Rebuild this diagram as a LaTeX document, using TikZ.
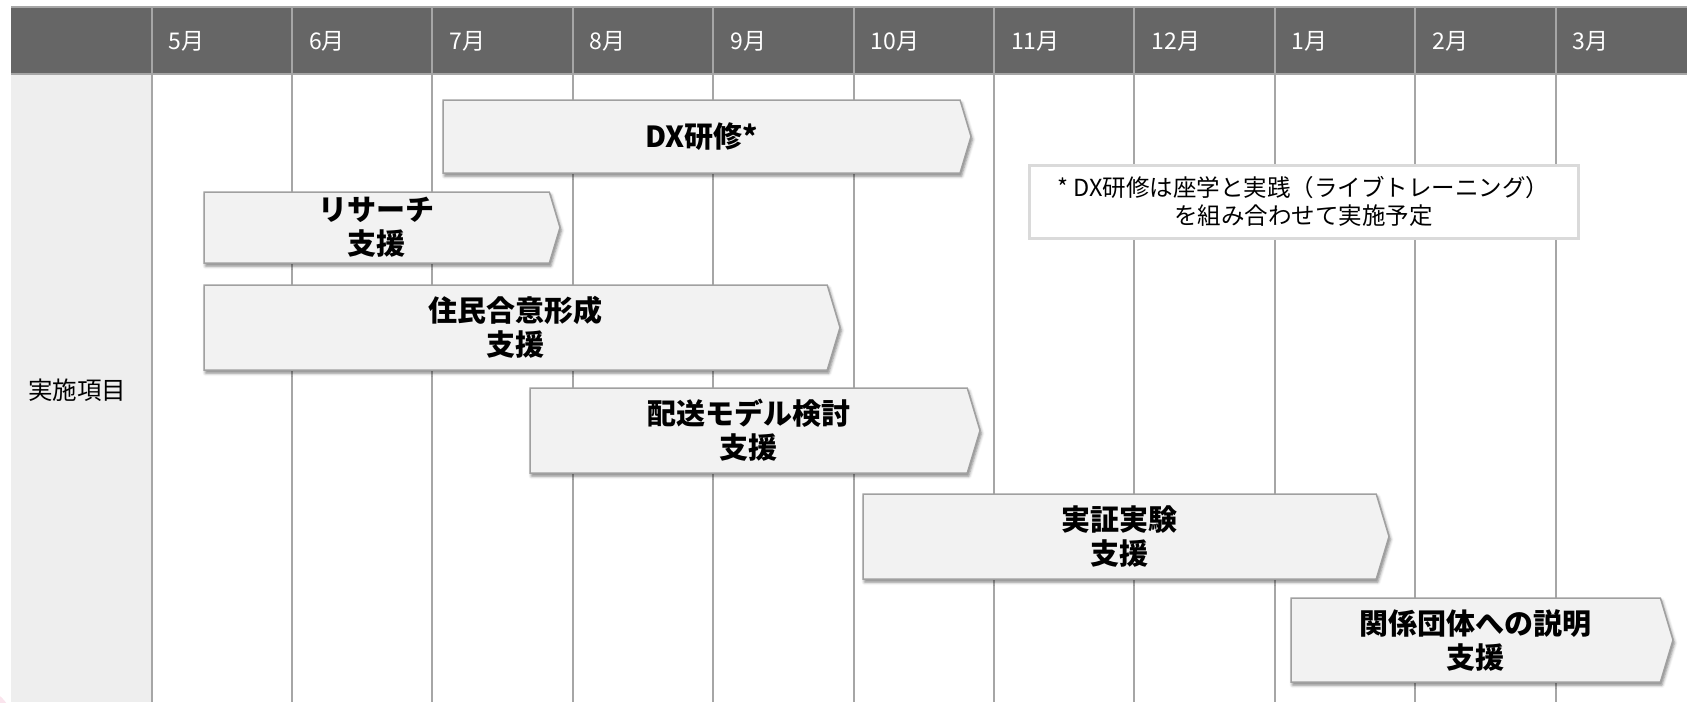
\documentclass[tikz,border=0pt]{standalone}
\usepackage{fontspec}
\setmainfont{Noto Sans CJK JP}
\usetikzlibrary{shadows,shadows.blur}
\definecolor{hdr}{HTML}{666666}
\definecolor{gridc}{HTML}{A6A6A6}
\definecolor{leftcol}{HTML}{EEEEEE}
\definecolor{barfill}{HTML}{F2F2F2}
\definecolor{barline}{HTML}{A0A0A0}
\definecolor{notebd}{HTML}{DADADA}
\definecolor{blob}{HTML}{F9DDE8}
\newcommand\gbar[6]{%
  \path[barshape] (#2,#4) -- ({#3-0.15*(#5-#4)},#4) -- (#3,{(#4+#5)/2}) -- ({#3-0.15*(#5-#4)},#5) -- (#2,#5) -- cycle;
  \node[bartext] (#1) at ({(#2+#3-0.15*(#5-#4))/2},{(#4+#5)/2}) {#6};}
\begin{document}
\begin{tikzpicture}[x=1pt,y=-1pt,
  gridline/.style={draw=gridc,line width=2pt},
  monthlabel/.style={text=white,anchor=west,inner sep=0pt,font=\fontsize{23}{27}\selectfont},
  barshape/.style={fill=barfill,draw=barline,line width=1.5pt,line join=miter,
    blur shadow={shadow xshift=1.5pt,shadow yshift=-3pt,shadow blur radius=3pt,shadow opacity=50}},
  bartext/.style={align=center,inner sep=0pt,font=\fontsize{29}{34}\selectfont\bfseries},
  notebox/.style={draw=notebd,line width=3pt,fill=white,align=center,inner sep=0pt,
    minimum width=549pt,minimum height=73pt,font=\fontsize{23.5}{28}\selectfont}]
\useasboundingbox (0,0) rectangle (1687,702);
\fill[blob,opacity=0.8] (-22,722) circle (34);
\fill[leftcol] (11,74) rectangle (151.5,702);
\fill[hdr] (11,7) rectangle (1687,74);
\draw[gridline] (11,7) -- (1687,7);
\draw[gridline] (11,74) -- (1687,74);
\foreach \i in {0,...,10} \draw[gridline] ({151.5+140.4*\i},7) -- ({151.5+140.4*\i},702);
\foreach \m [count=\i from 0] in {5月,6月,7月,8月,9月,10月,11月,12月,1月,2月,3月}
  \node[monthlabel] (m\i) at ({151.5+140.4*\i+17},41) {\m};
\node[font=\fontsize{24.5}{28}\selectfont,inner sep=0pt] (item) at (77,390) {実施項目};
\gbar{dx}{443}{971}{100}{173}{DX研修*}
\gbar{res}{204}{560}{192}{263}{リサーチ\\支援}
\gbar{jum}{204}{840}{285}{370}{住民合意形成\\支援}
\gbar{hai}{530}{980}{388}{473}{配送モデル検討\\支援}
\gbar{jis}{863}{1389}{494}{579}{実証実験\\支援}
\gbar{kan}{1291}{1673}{598}{682}{関係団体への説明\\支援}
\node[notebox] (note) at (1303.5,201.5) {* DX研修は座学と実践（ライブトレーニング）\\を組み合わせて実施予定};
\end{tikzpicture}
\end{document}
